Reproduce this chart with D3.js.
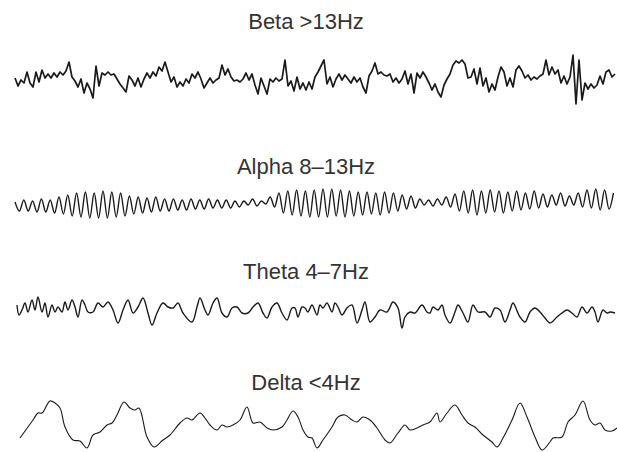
<!DOCTYPE html>
<html>
<head>
<meta charset="utf-8">
<script src="https://cdn.jsdelivr.net/npm/d3@7"></script>
<style>
  body { margin: 0; background: #fff; }
  .title { font-family: "Liberation Sans", Arial, sans-serif; font-size: 22px; fill: #333; }
  .trace { fill: none; stroke: #1a1a1a; stroke-linejoin: round; }
</style>
</head>
<body>
<svg id="chart"></svg>
<script>
// band names shown above each trace
var bandNames = ["Beta >13Hz", "Alpha 8\u201313Hz", "Theta 4\u20137Hz", "Delta <4Hz"];

var betaValues = [2,-6,0,-3,8,-3,-7,8,-2,10,
  2,6,2,7,3,8,5,9,18,3,
  -1,-7,1,-13,-3,-9,-18,14,-6,7,
  5,8,5,6,1,-4,-8,-12,4,0,
  -6,2,-7,1,7,2,8,4,13,9,
  18,8,-2,3,-7,-2,-6,1,-3,6,
  2,8,1,-8,-3,2,-3,0,2,15,
  5,11,3,-1,0,-2,1,7,0,6,
  -5,-14,2,-6,-14,1,-2,2,-1,1,
  20,-6,-1,-11,3,-9,-3,-10,-2,-9,
  3,8,14,20,-4,3,-7,1,6,0,
  5,1,-3,3,-2,2,-7,-13,4,9,
  17,6,8,5,4,6,-2,2,-3,1,
  9,-4,6,-13,7,2,8,3,-3,-10,
  -4,-12,-17,-5,1,6,15,19,17,20,
  16,2,3,11,-4,12,-6,2,-12,-4,
  -10,3,13,8,-6,2,-7,10,14,9,
  2,5,0,3,1,4,6,20,5,13,
  6,10,-3,4,-4,3,25,-24,20,-20,
  -3,-9,-4,-8,-5,4,-4,8,10,3,
  6];
var betaStep = 3;

// alpha: peak / trough of each cycle, half cycle = 4.4 time units
var alphaExtremes = [3,-6, 5,-6, 4,-7, 6,-7, 5,-8, 8,-9, 10,-11, 12,-12, 13,-13, 12,-13,
  14,-13, 13,-12, 12,-11, 9,-9, 8,-8, 7,-7, 8,-6, 6,-6, 6,-5, 5,-5,
  6,-4, 5,-4, 6,-3, 5,-3, 5,-3, 4,-2, 4,0, 6,-1, 4,1, 8,-2,
  12,-8, 14,-10, 15,-11, 14,-12, 15,-12, 16,-12, 16,-11, 15,-12, 14,-11, 13,-10,
  13,-9, 12,-10, 13,-8, 12,-6, 10,-4, 9,-3, 6,0, 5,-1, 6,0, 8,-2,
  11,-6, 14,-8, 15,-10, 14,-8, 15,-7, 14,-8, 13,-6, 14,-5, 12,-4, 14,-3,
  11,-2, 10,0, 12,-1, 9,0, 12,-2, 15,-3, 16,-5, 15,-4, 12];
var alphaStep = 4.4;

// theta: time / value pairs
var thetaTime = [2,4,7,10,13,17,20,23,27,30,33,37,40,43,47,50,53,57,60,63,67,70,73,78,83,88,93,98,103,108,
  113,118,123,128,133,137,142,148,153,158,163,168,177,182,185,190,193,198,202,207,212,217,222,227,233,238,243,248,252,257,
  262,267,272,277,280,283,287,290,293,297,302,305,308,312,317,320,323,327,332,337,342,347,350,355,360,365,372,378,383,387,
  390,395,400,407,412,415,418,423,427,430,435,440,443,448,453,458,463,470,475,480,485,490,495,498,505,510,515,520,525,530,
  535,542,547,552,557,562,567,572,577,580,583,588,592,595,600];
var thetaValues = [5,-5,0,7,-2,10,0,13,-2,7,-7,5,-2,3,-2,8,0,10,3,-7,10,5,-2,-2,7,3,8,0,-13,0,
  10,-3,3,12,-3,-15,-3,7,3,2,7,-3,-12,3,12,0,-5,7,12,-3,-7,2,3,-3,-3,3,7,-3,-8,3,
  7,-3,-10,2,2,-7,3,2,-2,5,-5,5,2,7,-2,7,3,-5,2,5,-13,0,8,-12,-7,0,-2,8,2,-18,
  -7,-2,-3,5,-2,-3,3,0,5,-5,-13,-2,5,-3,-12,5,-2,-2,-7,2,0,-12,0,7,-7,-12,-2,2,-2,-8,
  -13,-7,-3,0,-3,-7,3,-3,3,-2,-12,0,-3,-2,-3];

// delta: time / value pairs
var deltaTime = [5,18,23,27,35,40,45,50,58,65,72,78,85,92,97,102,109,115,120,124,132,139,148,155,165,172,177,185,190,195,
  202,207,212,218,225,232,238,245,252,258,267,272,278,283,288,293,297,302,308,317,323,330,337,342,348,355,362,370,375,383,
  390,395,402,408,415,422,425,432,440,447,453,460,468,477,482,488,497,505,512,520,527,535,538,547,553,560,568,575,580,585,
  590,597,602];
var deltaValues = [-13,5,12,12,24,22,17,-2,-15,-16,-23,-10,-7,0,2,10,23,17,15,17,-12,-22,-15,-10,2,7,5,12,7,0,
  -5,0,-2,0,5,18,2,3,-3,-5,-2,5,14,8,-5,-12,-13,-23,-15,-2,8,10,5,3,8,5,-3,-15,-18,-8,
  0,-5,-3,0,3,12,3,12,20,10,2,-2,-10,-17,-22,-13,5,22,8,-12,-25,-17,-13,-12,3,10,24,5,0,2,
  -5,-6,-3];

(function() {
    var width = 617, height = 452;
    var svg = d3.select("#chart")
        .attr("width", width)
        .attr("height", height);

    var xScale = d3.scaleLinear().domain([0, 600]).range([15, 615]);

    var traces = [
        { name: bandNames[0], base: 80, title: 29, width: 1.7, curve: d3.curveLinear,
          points: betaValues.map((v, i) => [i * betaStep, v]) },
        { name: bandNames[1], base: 205, title: 174, width: 1.4, curve: d3.curveMonotoneX,
          points: alphaExtremes.map((v, i) => [i * alphaStep, v]) },
        { name: bandNames[2], base: 310, title: 279, width: 1.4, curve: d3.curveCatmullRom,
          points: thetaTime.map((t, i) => [t, thetaValues[i]]) },
        { name: bandNames[3], base: 425, title: 390, width: 1.1, curve: d3.curveCatmullRom,
          points: deltaTime.map((t, i) => [t, deltaValues[i]]) }
    ];

    traces.forEach(tr => {
        var yScale = d3.scaleLinear().domain([-30, 30]).range([tr.base + 30, tr.base - 30]);

        svg.append("text")
            .attr("class", "title")
            .attr("x", 306)
            .attr("y", tr.title)
            .style("text-anchor", "middle")
            .text(tr.name);

        var line = d3.line()
            .x(d => xScale(d[0]))
            .y(d => yScale(d[1]))
            .curve(tr.curve);

        svg.append("path")
            .datum(tr.points)
            .attr("class", "trace")
            .attr("stroke-width", tr.width)
            .attr("d", line);
    });
})();
</script>
</body>
</html>
